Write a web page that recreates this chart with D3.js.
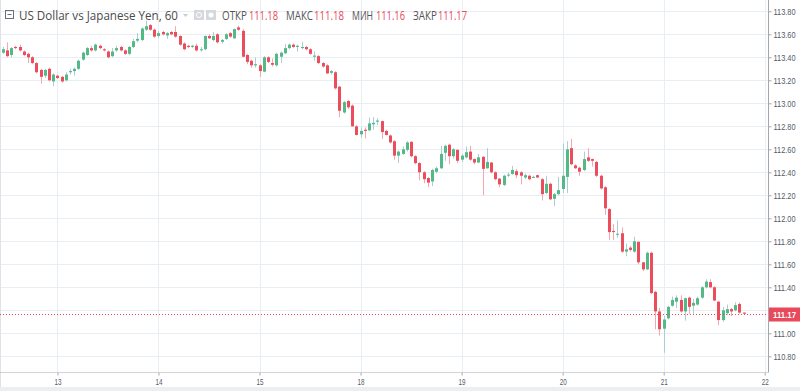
<!DOCTYPE html>
<html><head><meta charset="utf-8">
<script src="https://cdn.jsdelivr.net/npm/d3@7"></script>
<style>body{margin:0;background:#fff}svg{display:block}</style>
</head><body><svg id="c" width="800" height="391"></svg>
<script>
// Hourly candles, USD/JPY, 60 min
const opens = [113.44,113.46,113.42,113.49,113.49,113.45,113.43,113.40,113.35,113.29,113.24,113.30,113.19,113.24,113.23,113.20,113.27,113.28,113.30,113.38,113.42,113.48,113.46,113.50,113.47,113.45,113.41,113.46,113.49,113.46,113.43,113.49,113.545,113.55,113.64,113.68,113.64,113.585,113.62,113.59,113.62,113.62,113.585,113.52,113.50,113.49,113.50,113.466,113.47,113.585,113.55,113.60,113.535,113.56,113.61,113.565,113.66,113.63,113.42,113.37,113.33,113.33,113.275,113.40,113.35,113.33,113.405,113.435,113.48,113.51,113.49,113.48,113.49,113.47,113.405,113.41,113.35,113.33,113.265,113.27,113.145,112.92,113.02,112.98,112.80,112.73,112.77,112.765,112.817,112.84,112.845,112.76,112.72,112.67,112.545,112.56,112.595,112.665,112.54,112.48,112.40,112.35,112.32,112.405,112.435,112.57,112.64,112.54,112.595,112.51,112.53,112.58,112.515,112.485,112.535,112.435,112.485,112.40,112.345,112.29,112.375,112.385,112.41,112.40,112.355,112.37,112.355,112.375,112.34,112.22,112.30,112.17,112.21,112.255,112.36,112.61,112.46,112.44,112.42,112.53,112.515,112.49,112.37,112.27,112.08,111.89,111.86,111.87,111.71,111.745,111.71,111.795,111.617,111.556,111.70,111.36,111.19,111.04,111.13,111.24,111.275,111.29,111.19,111.31,111.24,111.25,111.31,111.40,111.445,111.40,111.275,111.115,111.175,111.21,111.20,111.255,111.18];
const highs = [113.49,113.53,113.49,113.50,113.51,113.46,113.44,113.41,113.36,113.30,113.30,113.31,113.26,113.25,113.24,113.27,113.30,113.31,113.38,113.45,113.49,113.50,113.52,113.51,113.48,113.46,113.48,113.50,113.50,113.47,113.50,113.56,113.61,113.66,113.72,113.69,113.65,113.63,113.63,113.62,113.63,113.67,113.59,113.53,113.51,113.51,113.52,113.49,113.59,113.60,113.62,113.61,113.56,113.61,113.62,113.65,113.675,113.645,113.43,113.38,113.40,113.34,113.41,113.41,113.39,113.44,113.45,113.515,113.52,113.52,113.51,113.535,113.50,113.48,113.45,113.42,113.36,113.34,113.29,113.28,113.15,113.02,113.03,112.99,112.81,112.79,112.79,112.875,112.88,112.87,112.85,112.77,112.73,112.68,112.59,112.625,112.67,112.67,112.55,112.49,112.41,112.36,112.43,112.45,112.63,112.64,112.65,112.61,112.60,112.56,112.625,112.63,112.52,112.56,112.54,112.61,112.49,112.41,112.35,112.38,112.40,112.455,112.43,112.41,112.39,112.38,112.37,112.38,112.35,112.37,112.31,112.22,112.36,112.65,112.67,112.69,112.47,112.45,112.58,112.61,112.52,112.50,112.38,112.28,112.09,111.95,111.98,111.92,111.78,111.76,111.84,111.80,111.62,111.71,111.71,111.37,111.22,111.15,111.24,111.32,111.33,111.33,111.31,111.32,111.30,111.32,111.41,111.47,111.47,111.41,111.28,111.23,111.25,111.22,111.27,111.27,111.18];
const lows = [113.43,113.40,113.40,113.47,113.45,113.41,113.35,113.34,113.26,113.17,113.22,113.19,113.15,113.21,113.18,113.19,113.25,113.24,113.29,113.37,113.41,113.45,113.45,113.47,113.45,113.39,113.40,113.45,113.45,113.42,113.42,113.48,113.53,113.54,113.63,113.63,113.57,113.57,113.59,113.56,113.59,113.57,113.50,113.46,113.48,113.48,113.45,113.45,113.46,113.56,113.54,113.52,113.52,113.55,113.57,113.56,113.63,113.40,113.34,113.31,113.31,113.23,113.27,113.35,113.32,113.32,113.35,113.43,113.47,113.48,113.45,113.47,113.46,113.42,113.37,113.34,113.31,113.255,113.25,113.12,112.88,112.91,112.95,112.795,112.72,112.70,112.695,112.76,112.77,112.81,112.69,112.72,112.65,112.51,112.48,112.55,112.58,112.53,112.47,112.33,112.305,112.27,112.28,112.39,112.43,112.50,112.47,112.52,112.48,112.49,112.52,112.50,112.47,112.48,112.20,112.43,112.39,112.33,112.27,112.28,112.36,112.38,112.35,112.295,112.34,112.33,112.35,112.35,112.155,112.21,112.16,112.107,112.20,112.22,112.22,112.46,112.43,112.37,112.41,112.49,112.45,112.36,112.25,112.03,111.81,111.81,111.83,111.70,111.67,111.71,111.70,111.60,111.54,111.55,111.34,111.035,110.98,110.83,111.12,111.23,111.22,111.18,111.11,111.17,111.17,111.24,111.30,111.39,111.39,111.28,111.07,111.10,111.16,111.15,111.19,111.17,111.16];
const closes = [113.47,113.41,113.48,113.48,113.46,113.42,113.40,113.35,113.27,113.23,113.29,113.20,113.25,113.22,113.19,113.25,113.28,113.30,113.37,113.44,113.48,113.46,113.51,113.48,113.46,113.40,113.45,113.48,113.46,113.43,113.49,113.54,113.56,113.65,113.67,113.64,113.58,113.61,113.60,113.61,113.60,113.58,113.51,113.47,113.49,113.50,113.46,113.47,113.585,113.565,113.585,113.53,113.55,113.60,113.58,113.645,113.64,113.405,113.36,113.33,113.34,113.28,113.40,113.36,113.335,113.43,113.44,113.48,113.51,113.49,113.50,113.49,113.47,113.43,113.415,113.35,113.32,113.26,113.28,113.13,112.935,113.01,112.965,112.80,112.725,112.76,112.76,112.825,112.83,112.85,112.75,112.725,112.66,112.545,112.58,112.60,112.66,112.54,112.48,112.40,112.34,112.31,112.42,112.435,112.56,112.63,112.54,112.60,112.50,112.545,112.575,112.51,112.485,112.53,112.43,112.49,112.40,112.34,112.295,112.37,112.38,112.42,112.375,112.37,112.375,112.34,112.36,112.355,112.21,112.30,112.165,112.21,112.245,112.37,112.60,112.47,112.435,112.405,112.515,112.50,112.50,112.37,112.26,112.087,111.88,111.88,111.865,111.71,111.73,111.725,111.80,111.617,111.556,111.70,111.35,111.19,111.035,111.12,111.23,111.29,111.31,111.19,111.305,111.23,111.265,111.305,111.40,111.45,111.40,111.285,111.115,111.20,111.21,111.19,111.245,111.18,111.17];
const dayLabels = ["13","14","15","18","19","20","21","22"];
const firstCandleHour = 11;          // first candle: day 12, 11:00
const priceTicks = [110.8,111.0,111.2,111.4,111.6,111.8,112.0,112.2,112.4,112.6,112.8,113.0,113.2,113.4,113.6,113.8];
const titleText = "US Dollar vs Japanese Yen, 60";
const ohlcLabels = ["ОТКР","МАКС","МИН","ЗАКР"];

const W = 800, H = 391;
const plotRight = 768, axisY = 372;
const svg = d3.select("#c");
const up = "#53b987", down = "#eb4d5c", upWick = "#a9cfd2", downWick = "#f4a7af";
const axisFont = "Liberation Sans, Arial, sans-serif";

svg.append("rect").attr("width",W).attr("height",H).attr("fill","#fff");
svg.append("rect").attr("x",0).attr("y",387).attr("width",W).attr("height",4).attr("fill","#eceef2");
svg.append("line").attr("x1",0.5).attr("x2",0.5).attr("y1",0).attr("y2",387).attr("stroke","#dfe2e6");

const n = closes.length;
const x = d3.scaleLinear().domain([-0.64, 181.78]).range([0, plotRight]);
const y = d3.scaleLinear().domain([110.8, 113.8]).range([356.3, 11.3]);

const defs = svg.append("defs");
defs.append("clipPath").attr("id","plotclip").append("rect").attr("x",0).attr("y",0).attr("width",plotRight).attr("height",axisY);
defs.append("clipPath").attr("id","timeclip").append("rect").attr("x",0).attr("y",0).attr("width",plotRight+1).attr("height",H);

// grid
const grid = svg.append("g");
grid.selectAll("line.h").data(priceTicks).join("line")
  .attr("x1",1).attr("x2",plotRight).attr("y1",d=>Math.round(y(d))+0.5).attr("y2",d=>Math.round(y(d))+0.5)
  .attr("stroke","#e9eef2");
const dayIdx = dayLabels.map((d,i)=> (24 - firstCandleHour) + 24*i);
grid.selectAll("line.v").data(dayIdx).join("line")
  .attr("x1",d=>Math.round(x(d))+0.5).attr("x2",d=>Math.round(x(d))+0.5).attr("y1",0).attr("y2",axisY)
  .attr("stroke","#e9eef2");

// candles
const idx = d3.range(n);
const cg = svg.append("g").attr("clip-path","url(#plotclip)");
cg.selectAll("line.w").data(idx).join("line")
  .attr("x1",i=>Math.round(x(i))+0.5).attr("x2",i=>Math.round(x(i))+0.5)
  .attr("y1",i=>y(highs[i])).attr("y2",i=>y(lows[i]))
  .attr("stroke",i=>closes[i]>=opens[i]?upWick:downWick).attr("stroke-width",1);
cg.selectAll("rect.b").data(idx).join("rect")
  .attr("x",i=>Math.round(x(i))-1).attr("width",3)
  .attr("y",i=>y(Math.max(opens[i],closes[i])))
  .attr("height",i=>Math.max(1, Math.abs(y(opens[i])-y(closes[i]))))
  .attr("fill",i=>closes[i]>=opens[i]?up:down);

// last price dotted line
const last = closes[n-1];
svg.append("line").attr("x1",0).attr("x2",plotRight).attr("y1",Math.round(y(last))+0.5).attr("y2",Math.round(y(last))+0.5)
  .attr("stroke","#e8495b").attr("stroke-dasharray","1,2");

// right price axis
const ra = d3.axisRight(y).tickValues(priceTicks).tickFormat(d3.format(".2f")).tickSize(3).tickSizeOuter(0);
const rg = svg.append("g").attr("transform",`translate(${plotRight+0.5},0)`).call(ra);
rg.select(".domain").attr("stroke","#a3a7ad").attr("d",`M0,0V${axisY}`);
rg.selectAll(".tick line").attr("stroke","#a3a7ad");
rg.selectAll(".tick text").attr("fill","#555b66").attr("font-family",axisFont).attr("font-size",9)
  .attr("x",5).attr("textLength",22).attr("lengthAdjust","spacingAndGlyphs");

// last price label
const lp = svg.append("g").attr("transform",`translate(${plotRight+1},${Math.round(y(last))})`);
lp.append("rect").attr("x",0).attr("y",-6.5).attr("width",31).attr("height",14).attr("fill","#e8495b");
lp.append("text").attr("x",4).attr("y",4).attr("fill","#fff").attr("font-family",axisFont)
  .attr("font-size",9.5).attr("font-weight","bold").attr("textLength",23).attr("lengthAdjust","spacingAndGlyphs")
  .text(d3.format(".2f")(last));

// time axis
const ta = d3.axisBottom(x).tickValues(dayIdx).tickFormat((d,i)=>dayLabels[i]).tickSize(3).tickSizeOuter(0);
const bg = svg.append("g").attr("transform",`translate(0,${axisY+0.5})`).call(ta);
bg.select(".domain").attr("stroke","#a3a7ad").attr("d",`M0,0H${plotRight+1}`);
bg.selectAll(".tick line").attr("stroke","#a3a7ad");
bg.selectAll(".tick text").attr("fill","#555b66").attr("font-family",axisFont).attr("font-size",9)
  .attr("dy","0.75em").attr("textLength",7).attr("lengthAdjust","spacingAndGlyphs");
bg.attr("clip-path","url(#timeclip)");

// header legend
const hf = "Open Sans, sans-serif";
const hg = svg.append("g");
hg.append("rect").attr("x",5.5).attr("y",10.5).attr("width",8).attr("height",8).attr("fill","none").attr("stroke","#6c6f75");
hg.append("line").attr("x1",7.5).attr("x2",11.5).attr("y1",14.5).attr("y2",14.5).attr("stroke","#6c6f75");
hg.append("text").attr("x",19).attr("y",20).attr("font-family",hf).attr("font-size",12.5).attr("fill","#4a4a4a")
  .attr("textLength",159).attr("lengthAdjust","spacingAndGlyphs").text(titleText);
hg.append("path").attr("d","M183,14 L188,14 L185.5,17 Z").attr("fill","#c8cbd0");
hg.append("rect").attr("x",194).attr("y",10).attr("width",10).attr("height",10).attr("fill","#d6d8dc");
hg.append("circle").attr("cx",199).attr("cy",15).attr("r",2.5).attr("fill","none").attr("stroke","#fff");
hg.append("rect").attr("x",206).attr("y",10).attr("width",10).attr("height",10).attr("fill","#d6d8dc");
hg.append("circle").attr("cx",211).attr("cy",15).attr("r",2.5).attr("fill","#fff");
const ohlcVals = [opens[n-1], highs[n-1], lows[n-1], closes[n-1]];
const labX = [222, 286, 352, 413], labW = [25, 27, 21, 24];
const valX = [249, 314, 376, 438], valW = [29, 30, 29, 29];
ohlcLabels.forEach((l,i)=>{
  hg.append("text").attr("x",labX[i]).attr("y",20).attr("font-family",hf).attr("font-size",12).attr("fill","#555")
    .attr("textLength",labW[i]).attr("lengthAdjust","spacingAndGlyphs").text(l);
  hg.append("text").attr("x",valX[i]).attr("y",20).attr("font-family",hf).attr("font-size",12).attr("fill","#e8495b")
    .attr("textLength",valW[i]).attr("lengthAdjust","spacingAndGlyphs").text(d3.format(".2f")(ohlcVals[i]));
});
</script>
</body></html>
